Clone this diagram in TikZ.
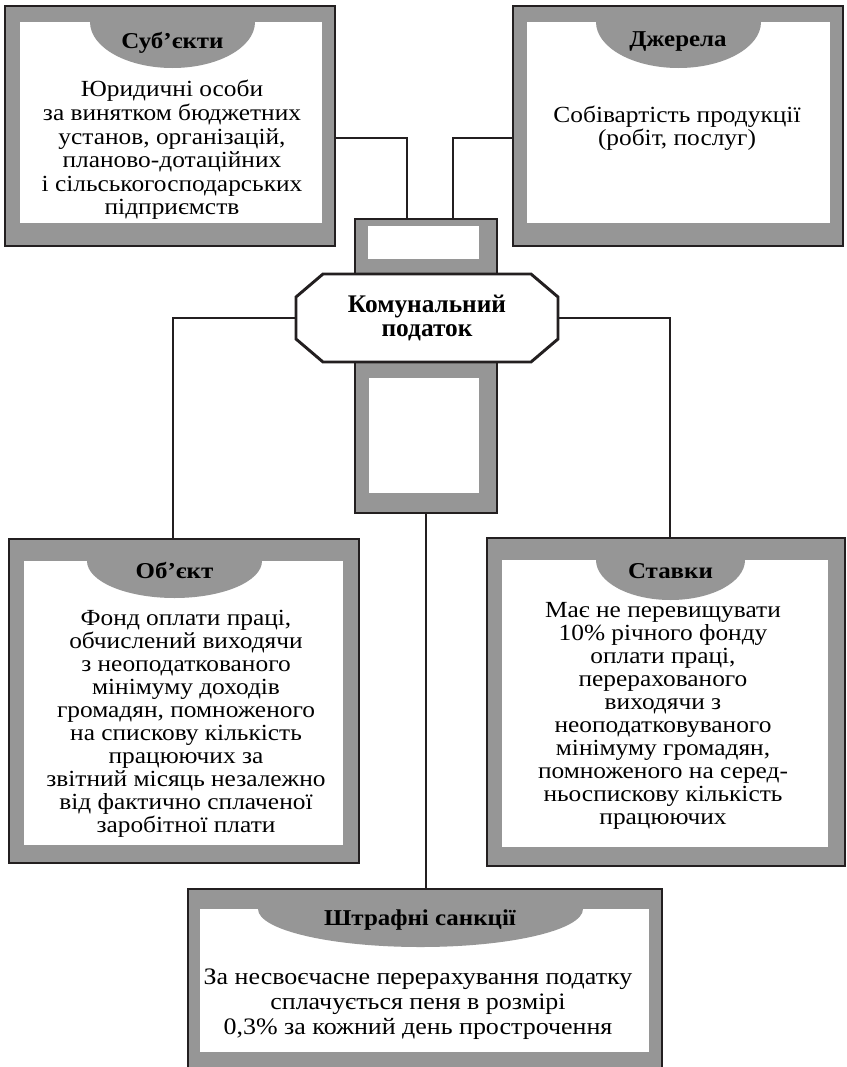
\documentclass[tikz,border=0pt]{standalone}
\usepackage{fontspec}
\setmainfont{Liberation Serif}[FakeStretch=1.1]
\newfontfamily\plainserif{Liberation Serif}
\definecolor{framegray}{RGB}{150,150,150}
\definecolor{inkline}{RGB}{35,31,32}

\begin{document}
\begin{tikzpicture}[x=0.75pt,y=-0.75pt,
  frame/.style={rectangle,draw=inkline,line width=1pt,fill=framegray,inner sep=0},
  pane/.style={rectangle,fill=white,inner sep=0},
  heading/.style={font=\fontsize{17}{17}\selectfont\bfseries,anchor=base,inner sep=0},
  body/.style={align=center,font=\fontsize{17.3}{17.3}\selectfont,inner sep=0},
  line/.style={draw=inkline,line width=1.5pt}]

\useasboundingbox (0,0) rectangle (846,1067);

% frames
\node[frame,minimum width=247.5pt,minimum height=180pt]   (subj) at (170,126) {};
\node[frame,minimum width=247.5pt,minimum height=180pt]   (src)  at (678,126) {};
\node[frame,minimum width=262.5pt,minimum height=243pt]   (obj)  at (184,701) {};
\node[frame,minimum width=268.5pt,minimum height=246pt]   (rate) at (666,702) {};
\node[frame,minimum width=355.5pt,minimum height=139.5pt] (fine) at (425,982) {};
\node[frame,minimum width=106.5pt,minimum height=220.5pt] (core) at (426,366) {};

% white panes
\node[pane,minimum width=226.5pt,minimum height=150.75pt]  (subjin)  at (171,122.5) {};
\node[pane,minimum width=227.25pt,minimum height=150.75pt] (srcin)   at (678.5,122.5) {};
\node[pane,minimum width=239.25pt,minimum height=213pt]    (objin)   at (183.5,703) {};
\node[pane,minimum width=244.5pt,minimum height=215.25pt]  (ratein)  at (665,703.5) {};
\node[pane,minimum width=336.75pt,minimum height=107.25pt] (finein)  at (424.5,980.5) {};
\node[pane,minimum width=83.25pt,minimum height=24.75pt]   (coretop) at (423.5,242.5) {};
\node[pane,minimum width=82.5pt,minimum height=86.25pt]    (corebot) at (424,435.5) {};

% header caps
\fill[framegray] (90,22)  arc[start angle=180,end angle=0,x radius=82.5,y radius=46] -- cycle;
\fill[framegray] (596,22) arc[start angle=180,end angle=0,x radius=82.5,y radius=46] -- cycle;
\fill[framegray] (87,561) arc[start angle=180,end angle=0,x radius=87.5,y radius=37] -- cycle;
\fill[framegray] (596,560) arc[start angle=180,end angle=0,x radius=74.5,y radius=40] -- cycle;
\fill[framegray] (258,909) arc[start angle=180,end angle=0,x radius=162.5,y radius=38] -- cycle;

% centre octagon
\draw[draw=inkline,line width=2.2pt,fill=white,line join=miter]
  (323,274) -- (531,274) -- (558,297) -- (558,339) -- (531,362)
  -- (323,362) -- (296,339) -- (296,297) -- cycle;
\node[minimum width=196.5pt,minimum height=66pt,inner sep=0,
  align=center,font=\plainserif\fontsize{19}{17.5}\selectfont\bfseries] (tax) at (427,318) {Комунальний\\податок};

% connectors
\draw[line] ([yshift=-9pt]subj.east) -| ([xshift=-14.25pt]core.north);
\draw[line] ([yshift=-9pt]src.west)  -| ([xshift=20.25pt]core.north);
\draw[line] (tax.west) -| ([xshift=-8.25pt]obj.north);
\draw[line] (tax.east) -| ([xshift=3pt]rate.north);
\draw[line] (core.south) -- (core.south |- fine.north);

% captions
\node[heading] (subjcap) at (172.5,48) {Суб’єкти};
\node[heading] (srccap)  at (678,46)   {Джерела};
\node[heading] (objcap)  at (174.5,578) {Об’єкт};
\node[heading] (ratecap) at (670.5,578) {Ставки};
\node[heading] (finecap) at (420,925)  {Штрафні санкції};

% texts
\node[body,font=\fontsize{17.3}{17.7}\selectfont] (subjtxt) at (172,150) {Юридичні особи\\за винятком бюджетних\\установ, організацій,\\планово-дотаційних\\і сільськогосподарських\\підприємств};
\node[body,font=\fontsize{17.3}{15.5}\selectfont] (srctxt) at (677,128.5) {Собівартість продукції\\(робіт, послуг)};
\node[body] (objtxt) at (186,724) {Фонд оплати праці,\\обчислений виходячи\\з неоподаткованого\\мінімуму доходів\\громадян, помноженого\\на спискову кількість\\працюючих за\\звітний місяць незалежно\\від фактично сплаченої\\заробітної плати};
\node[body] (ratetxt) at (663,716) {Має не перевищувати\\10\% річного фонду\\оплати праці,\\перерахованого\\виходячи з\\неоподатковуваного\\мінімуму громадян,\\помноженого на серед-\\ньоспискову кількість\\працюючих};
\node[body,font=\fontsize{17.7}{18.75}\selectfont] (finetxt) at (418,1004) {За несвоєчасне перерахування податку\\сплачується пеня в розмірі\\0,3\% за кожний день прострочення};
\end{tikzpicture}
\end{document}
